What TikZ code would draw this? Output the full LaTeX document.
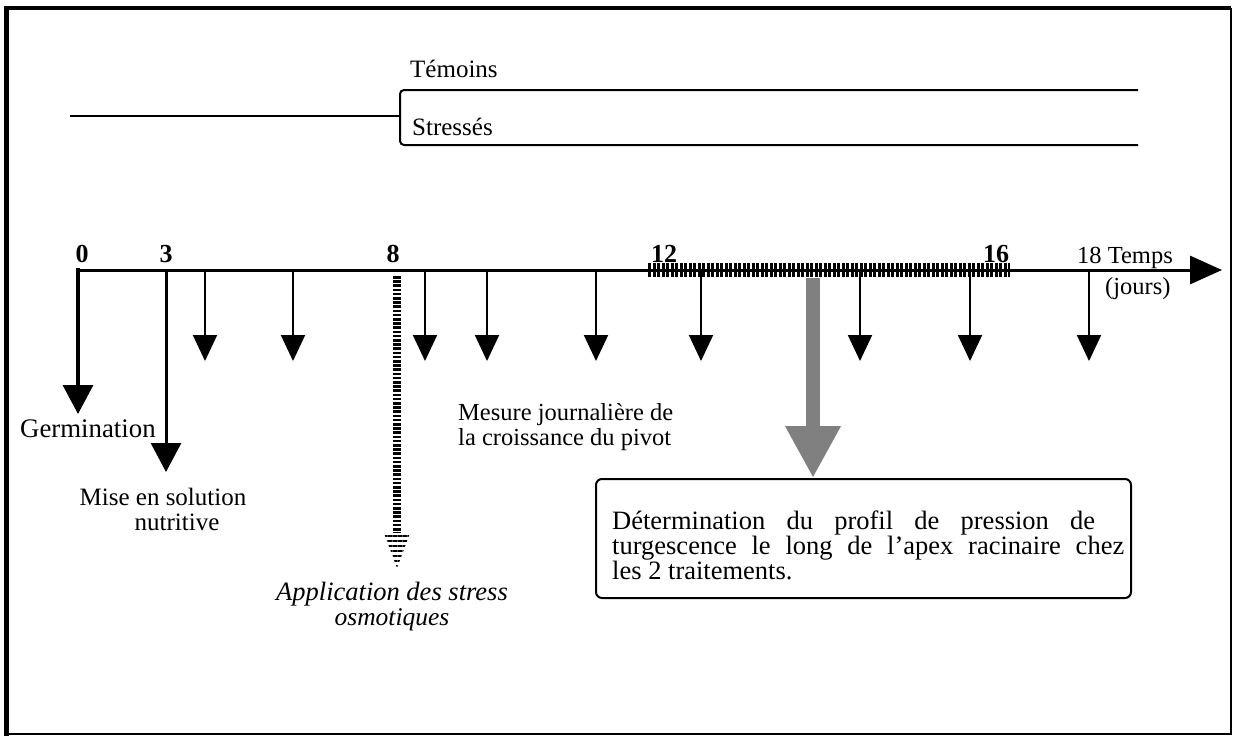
\documentclass[tikz,border=0pt]{standalone}
\usepackage{fontspec}
\setmainfont{Liberation Serif}
\usetikzlibrary{arrows.meta,patterns.meta}
\begin{document}
\begin{tikzpicture}[x=1pt,y=-1pt,
  every node/.style={inner sep=0pt, font=\fontsize{26}{30}\selectfont},
  fs/.style={font=\fontsize{#1}{30}\selectfont},
  lbl/.style={anchor=base west},
  num/.style={anchor=base, font=\fontsize{26}{30}\selectfont\bfseries},
  axisline/.style={line width=3pt},
  small/.style={line width=2pt, -{Triangle[width=24pt,length=26pt]}},
  big/.style={line width=3.5pt, -{Triangle[width=30pt,length=29pt]}},
  bracket/.style={line width=2pt},
  stripeline/.style={line width=8pt, dash pattern=on 2.6pt off 1.6pt},
  hatchbar/.style={line width=14pt, dash pattern=on 3pt off 1.5pt},
  greyarrow/.style={line width=14pt, draw=black!50, -{Triangle[width=52pt,length=52pt]}},
  box/.style={draw, line width=2pt, rounded corners=6pt, minimum width=535pt, minimum height=119pt}
]
\useasboundingbox (0,0) rectangle (1233,736);
% frame
\draw[line width=5pt] (6,736) -- (6,8);
\draw[line width=4pt] (4,8) -- (1231,8);
\draw[line width=1.5pt] (1231,8) -- (1231,734) -- (6,734);

% treatment bracket
\coordinate (b0) at (70,116);
\coordinate (bj) at (400,116);
\coordinate (bt) at (1138,90);
\coordinate (bs) at (1138,145);
\draw[bracket] (b0) -- (bj);
\draw[bracket, rounded corners=4pt] (bt) -- (400,90) -- (400,145) -- (bs);
\node[lbl, fs=25] (temoins) at (410,77) {Témoins};
\node[lbl, fs=25] (stresses) at (412,135) {Stressés};

% axis
\coordinate (o) at (78,270);
\coordinate (tend) at (1222,270);
\draw[axisline, -{Triangle[width=28pt,length=32pt]}] (o) -- (tend);
\coordinate (h1) at (648,270);
\coordinate (h2) at (1010,270);
\draw[hatchbar] (h1) -- (h2);

% axis labels
\node[num] (n0) at (82,262) {0};
\node[num] (n3) at (166,262) {3};
\node[num] (n8) at (393,262) {8};
\node[num] (n12) at (664,262) {12};
\node[num] (n16) at (996,262) {16};
\node[lbl, fs=24.5] (n18) at (1077,263) {18 Temps};
\node[lbl, fs=24.5] (jours) at (1105,294) {(jours)};

% germination and mise en solution
\coordinate (gtip) at (78,414);
\draw[big, line cap=rect] (o) -- (gtip);
\coordinate (m0) at (166,270);
\coordinate (mtip) at (166,472);
\draw[big, line width=3pt] (m0) -- (mtip);
\node[lbl, fs=26.8] (germ) at (20,437) {Germination};
\node[anchor=base, fs=25] (mise1) at (163,505) {Mise en solution};
\node[anchor=base, fs=25] (mise2) at (177,530) {nutritive};

% daily arrows
\foreach \x/\n in {205/a1,293/a2,425/a3,487/a4,596/a5,701/a6,860/a7,970/a8,1089/a9}{
  \coordinate (\n s) at (\x,270);
  \coordinate (\n t) at (\x,361);
  \draw[small] (\n s) -- (\n t);
}
\node[lbl, fs=24.5] (mes1) at (458,420) {Mesure journalière de};
\node[lbl, fs=24.5] (mes2) at (458,445) {la croissance du pivot};

% stress application
\coordinate (s0) at (397,276);
\coordinate (s1) at (397,533);
\coordinate (s2) at (397,568);
\draw[stripeline] (s0) -- (s1);
\fill[pattern={Lines[angle=0,distance=5pt,line width=2.6pt]}] (384,533) -- (410,533) -- (s2) -- cycle;
\node[anchor=base, font=\fontsize{26.5}{30}\selectfont\itshape] (app1) at (392,600) {Application des stress};
\node[anchor=base, font=\fontsize{25.5}{30}\selectfont\itshape] (app2) at (392,625) {osmotiques};

% determination
\node[box, anchor=north west] (box) at (595,478) {};
\coordinate (g0) at (813,278);
\draw[greyarrow] (g0) -- (box.north -| g0);
\node[lbl, fs=26.5] (d1) at (612,529) {\makebox[483pt][s]{Détermination du profil de pression de}};
\node[lbl, fs=26.5] (d2) at (612,554) {\makebox[512pt][s]{turgescence le long de l'apex racinaire chez}};
\node[lbl, fs=26.5] (d3) at (612,579) {les 2 traitements.};
\end{tikzpicture}
\end{document}
